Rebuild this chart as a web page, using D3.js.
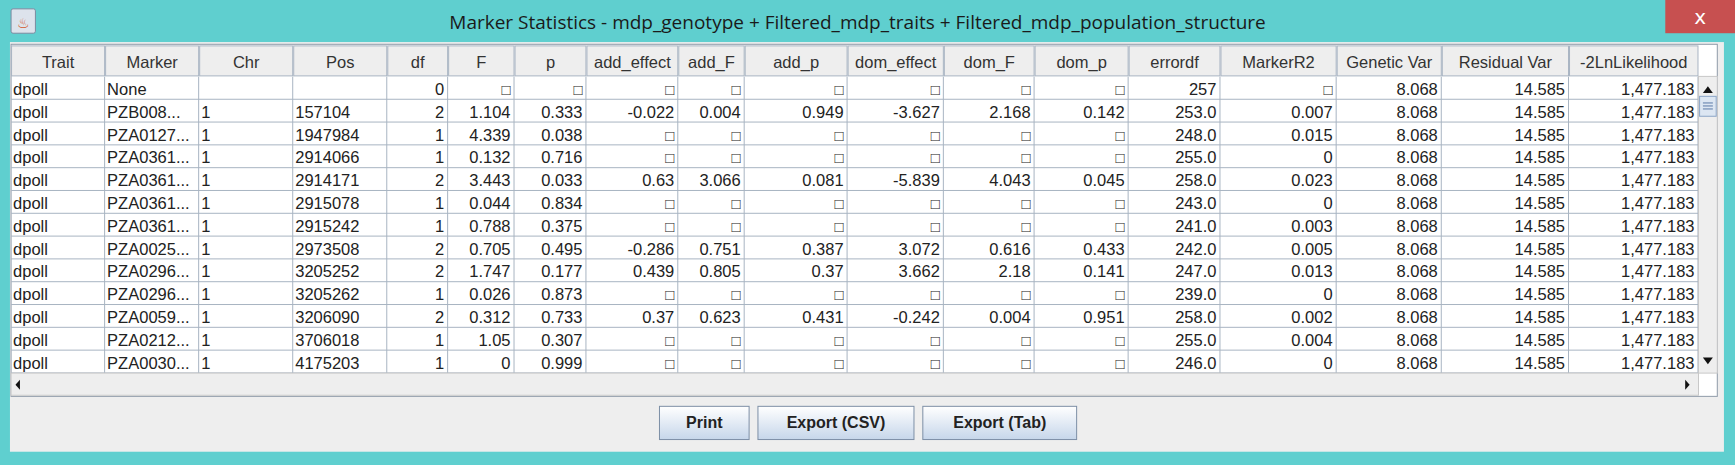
<!DOCTYPE html>
<html><head><meta charset="utf-8">
<script src="https://cdn.jsdelivr.net/npm/d3@7"></script>
<style>body{margin:0;background:#5fcfcf}svg{display:block}</style>
</head><body>
<script>
'use strict';
// table columns and data, read from the window
const headers = ['Trait','Marker','Chr','Pos','df','F','p','add_effect','add_F','add_p','dom_effect','dom_F','dom_p','errordf','MarkerR2','Genetic Var','Residual Var','-2LnLikelihood'];
const colEdges = [10,95,180,265,350,405,465,530,613,673,766,853,935,1020,1103,1208,1303,1418,1535];
const leftAligned = [true,true,true,true];
const N = '\u25A1';
const trait = Array(13).fill('dpoll');
const marker = ['None','PZB008...','PZA0127...','PZA0361...','PZA0361...','PZA0361...','PZA0361...','PZA0025...','PZA0296...','PZA0296...','PZA0059...','PZA0212...','PZA0030...'];
const chr = ['','1','1','1','1','1','1','1','1','1','1','1','1'];
const pos = ['','157104','1947984','2914066','2914171','2915078','2915242','2973508','3205252','3205262','3206090','3706018','4175203'];
const df = ['0','2','1','1','2','1','1','2','2','1','2','1','1'];
const fStat = [N,'1.104','4.339','0.132','3.443','0.044','0.788','0.705','1.747','0.026','0.312','1.05','0'];
const pVal = [N,'0.333','0.038','0.716','0.033','0.834','0.375','0.495','0.177','0.873','0.733','0.307','0.999'];
const addEffect = [N,'-0.022',N,N,'0.63',N,N,'-0.286','0.439',N,'0.37',N,N];
const addF = [N,'0.004',N,N,'3.066',N,N,'0.751','0.805',N,'0.623',N,N];
const addP = [N,'0.949',N,N,'0.081',N,N,'0.387','0.37',N,'0.431',N,N];
const domEffect = [N,'-3.627',N,N,'-5.839',N,N,'3.072','3.662',N,'-0.242',N,N];
const domF = [N,'2.168',N,N,'4.043',N,N,'0.616','2.18',N,'0.004',N,N];
const domP = [N,'0.142',N,N,'0.045',N,N,'0.433','0.141',N,'0.951',N,N];
const errordf = ['257','253.0','248.0','255.0','258.0','243.0','241.0','242.0','247.0','239.0','258.0','255.0','246.0'];
const markerR2 = [N,'0.007','0.015','0','0.023','0','0.003','0.005','0.013','0','0.002','0.004','0'];
const geneticVar = Array(13).fill('8.068');
const residualVar = Array(13).fill('14.585');
const likelihood = Array(13).fill('1,477.183');
const columns = [trait,marker,chr,pos,df,fStat,pVal,addEffect,addF,addP,domEffect,domF,domP,errordf,markerR2,geneticVar,residualVar,likelihood];
const buttons = ['Print','Export (CSV)','Export (Tab)'];
const buttonEdges = [[596,677],[685,826],[834,973]];

const W = 1735, H = 465;
const font = '"Liberation Sans", Arial, sans-serif';
const x = d3.scaleLinear().domain([0, 1568]).range([0, W]);
const y = d3.scaleLinear().domain([0, 420]).range([0, H]);
const rowY = d3.scaleLinear().domain([0, 1]).range([y(69.5), y(90.1)]);
const bodyBottom = 337; // horizontal scrollbar hides most of the last row

const svg = d3.select('body').append('svg').attr('width', W).attr('height', H);
svg.append('rect').attr('width', W).attr('height', H).attr('fill', '#5fcfcf');

// title bar
svg.append('rect').attr('x', x(1505)).attr('y', 0).attr('width', W - x(1505)).attr('height', y(30)).attr('fill', '#c75050');
svg.append('text').attr('x', (x(1505) + W) / 2).attr('y', y(22)).attr('text-anchor', 'middle')
  .attr('font-family', '"DejaVu Sans", sans-serif').attr('font-size', 20).attr('fill', '#fff').text('x');
svg.append('rect').attr('x', x(10)).attr('y', y(8)).attr('width', x(22)).attr('height', y(22)).attr('rx', 2)
  .attr('fill', '#dde3ec').attr('stroke', '#7a8ba0');
svg.append('text').attr('x', x(21)).attr('y', y(25)).attr('text-anchor', 'middle').attr('font-size', 14)
  .attr('fill', '#d2572a').attr('font-family', font).text('\u2668');
svg.append('text').attr('x', x(775)).attr('y', y(26)).attr('text-anchor', 'middle')
  .attr('font-family', '"Open Sans", "Noto Sans", sans-serif').attr('font-size', 19).attr('fill', '#1a1a1a')
  .text('Marker Statistics - mdp_genotype + Filtered_mdp_traits + Filtered_mdp_population_structure');

// window body
svg.append('rect').attr('x', x(9)).attr('y', y(38)).attr('width', x(1558) - x(9)).attr('height', y(408) - y(38)).attr('fill', '#eeeeee');
svg.append('rect').attr('x', x(10)).attr('y', y(40)).attr('width', x(1552) - x(10)).attr('height', y(358) - y(40))
  .attr('fill', '#ffffff').attr('stroke', '#8e9aa8');

const clip = svg.append('clipPath').attr('id', 'body');
clip.append('rect').attr('x', x(10)).attr('y', y(69)).attr('width', x(1535) - x(10)).attr('height', y(bodyBottom) - y(69));

// header
const gHead = svg.append('g');
headers.forEach((h, i) => {
  const x0 = x(colEdges[i]), x1 = x(colEdges[i + 1]);
  gHead.append('rect').attr('x', x0 + 0.5).attr('y', y(41) + 0.5).attr('width', x1 - x0 - 1).attr('height', y(69) - y(41) - 1)
    .attr('fill', '#eeeeee').attr('stroke', '#a8b4c2');
  gHead.append('text').attr('x', (x0 + x1) / 2).attr('y', y(61)).attr('text-anchor', 'middle')
    .attr('font-family', font).attr('font-size', 16.5).attr('fill', '#333').text(h);
});

// body cells
const gBody = svg.append('g').attr('clip-path', 'url(#body)');
const nRows = trait.length;
d3.range(nRows).forEach(r => {
  gBody.append('line').attr('x1', x(10)).attr('x2', x(1535)).attr('y1', rowY(r + 1) - 0.5).attr('y2', rowY(r + 1) - 0.5)
    .attr('stroke', '#a8b4c2');
});
colEdges.slice(1).forEach(e => {
  gBody.append('line').attr('x1', x(e) - 0.5).attr('x2', x(e) - 0.5).attr('y1', y(69)).attr('y2', y(bodyBottom)).attr('stroke', '#a8b4c2');
});
columns.forEach((col, c) => {
  const left = leftAligned[c];
  const x0 = x(colEdges[c]), x1 = x(colEdges[c + 1]);
  gBody.selectAll(null).data(col).enter().append('text')
    .attr('x', left ? x0 + 2 : x1 - 4)
    .attr('y', (d, r) => rowY(r) + 18)
    .attr('text-anchor', left ? 'start' : 'end')
    .attr('font-family', font).attr('font-size', d => d === N ? 15 : 16.5).attr('fill', '#222')
    .text(d => d);
});

// vertical scrollbar
svg.append('rect').attr('x', x(1535)).attr('y', y(69)).attr('width', x(1552) - x(1535)).attr('height', y(bodyBottom) - y(69)).attr('fill', '#eeeeee').attr('stroke', '#c8c8c8');
svg.append('rect').attr('x', x(1536)).attr('y', y(87)).attr('width', x(1551) - x(1536)).attr('height', y(105) - y(87)).attr('fill', '#dce6f2').attr('stroke', '#8aa4c6');
[0, 3, 6].forEach(o => svg.append('line').attr('x1', x(1539)).attr('x2', x(1548)).attr('y1', y(93) + o).attr('y2', y(93) + o).attr('stroke', '#5a7aa8'));
svg.append('path').attr('d', `M${x(1539)},${y(84)}L${x(1548)},${y(84)}L${x(1543.5)},${y(78)}Z`).attr('fill', '#111');
svg.append('path').attr('d', `M${x(1539)},${y(323)}L${x(1548)},${y(323)}L${x(1543.5)},${y(329)}Z`).attr('fill', '#111');

// horizontal scrollbar
svg.append('rect').attr('x', x(10)).attr('y', y(bodyBottom)).attr('width', x(1535) - x(10)).attr('height', y(357) - y(bodyBottom)).attr('fill', '#eeeeee').attr('stroke', '#c8c8c8');
svg.append('path').attr('d', `M${x(18)},${y(343)}L${x(18)},${y(352)}L${x(14)},${y(347.5)}Z`).attr('fill', '#111');
svg.append('path').attr('d', `M${x(1523)},${y(343)}L${x(1523)},${y(352)}L${x(1527)},${y(347.5)}Z`).attr('fill', '#111');

// buttons
const grad = svg.append('defs').append('linearGradient').attr('id', 'btn').attr('x1', 0).attr('x2', 0).attr('y1', 0).attr('y2', 1);
grad.append('stop').attr('offset', 0).attr('stop-color', '#ffffff');
grad.append('stop').attr('offset', 1).attr('stop-color', '#c6d6ea');
buttons.forEach((b, i) => {
  const [b0, b1] = buttonEdges[i];
  svg.append('rect').attr('x', x(b0)).attr('y', y(367)).attr('width', x(b1) - x(b0)).attr('height', y(397) - y(367))
    .attr('fill', 'url(#btn)').attr('stroke', '#7d8fa6');
  svg.append('text').attr('x', x((b0 + b1) / 2)).attr('y', y(387)).attr('text-anchor', 'middle')
    .attr('font-family', font).attr('font-size', 16).attr('font-weight', 'bold').attr('fill', '#222').text(b);
});
</script>
</body></html>
